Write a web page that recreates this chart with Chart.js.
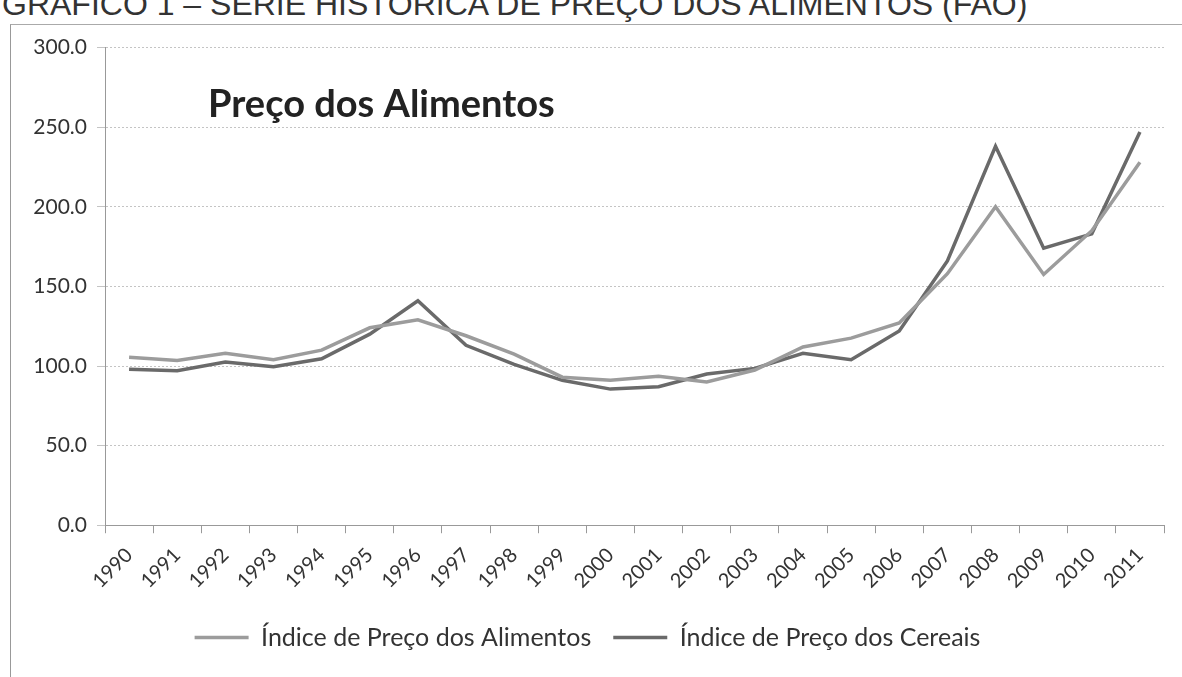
<!DOCTYPE html>
<html>
<head>
<meta charset="utf-8">
<script src="https://cdn.jsdelivr.net/npm/chart.js@4.4.1/dist/chart.umd.min.js"></script>
<style>
  body { margin: 0; background: #fff; overflow: hidden; }
  #header { position: absolute; left: 2px; top: -14px; font-family: "Liberation Sans", Arial, sans-serif; font-size: 32px; color: #333; white-space: nowrap; }
  #frame { position: absolute; left: 10px; top: 24px; width: 1180px; height: 660px; border-left: 1px solid #999; border-top: 1px solid #aaa; }
</style>
</head>
<body>
<div id="header">GRÁFICO 1 – SÉRIE HISTÓRICA DE PREÇO DOS ALIMENTOS (FAO)</div>
<div id="frame"><canvas id="precos" width="1162" height="635"></canvas></div>
<script>
// anos e indices
var anos = ['1990', '1991', '1992', '1993', '1994', '1995', '1996', '1997', '1998', '1999', '2000',
    '2001', '2002', '2003', '2004', '2005', '2006', '2007', '2008', '2009', '2010', '2011'];
var alimentos = [105.5, 103.5, 108, 104, 110, 124, 129, 119, 107.5, 93, 91, 93.5, 90, 97.5, 112, 117.5, 127, 158, 200, 157.5, 185, 228];
var cereais = [98, 97, 102.5, 99.5, 104.5, 120, 141, 113, 101, 91, 85.5, 87, 95, 98.5, 108, 104, 122, 166, 238, 174, 183, 247];
var tituloGrafico = 'Preço dos Alimentos';

var fonte = 'Lato, "Open Sans", sans-serif';

// titulo desenhado dentro da area do grafico
var tituloInterno = {
    id: 'tituloInterno',
    afterDraw: function (chart) {
        var c = chart.ctx;
        c.save();
        c.font = 'bold 38px ' + fonte;
        c.fillStyle = '#222';
        c.textBaseline = 'middle';
        c.fillText(tituloGrafico, chart.chartArea.left + 103, chart.chartArea.top + 57);
        c.restore();
    }
};

var ctx = document.getElementById('precos').getContext('2d');
var chart = new Chart(ctx, {
    type: 'line',
    data: {
        labels: anos,
        datasets: [{
            label: 'Índice de Preço dos Alimentos',
            data: alimentos,
            borderColor: '#9c9c9c',
            backgroundColor: '#9c9c9c',
            borderWidth: 3.5,
            pointRadius: 0,
            tension: 0
        },
        {
            label: 'Índice de Preço dos Cereais',
            data: cereais,
            borderColor: '#6a6a6a',
            backgroundColor: '#6a6a6a',
            borderWidth: 3.5,
            pointRadius: 0,
            tension: 0
        }]
    },
    options: {
        responsive: false,
        animation: false,
        layout: { padding: { top: 10, right: 9, left: 0, bottom: 0 } },
        plugins: {
            legend: {
                position: 'bottom',
                labels: {
                    usePointStyle: true,
                    pointStyle: 'line',
                    pointStyleWidth: 54,
                    boxHeight: 4,
                    color: '#333',
                    padding: 22,
                    font: { family: fonte, size: 25 }
                }
            },
            tooltip: { enabled: false }
        },
        scales: {
            x: {
                offset: true,
                grid: { display: true, drawOnChartArea: false, drawTicks: true, tickLength: 8, color: '#999', offset: true },
                border: { color: '#999' },
                ticks: { maxRotation: 45, minRotation: 45, color: '#333', font: { family: fonte, size: 20 }, padding: 10 }
            },
            y: {
                min: 0,
                max: 300,
                ticks: {
                    stepSize: 50,
                    color: '#333',
                    padding: 10,
                    font: { family: fonte, size: 21 },
                    callback: function (v) { return v.toFixed(1); }
                },
                grid: { color: '#c4c4c4', tickLength: 8 },
                border: { color: '#999', dash: [2, 2] },
                afterFit: function (s) { s.width = 94; }
            }
        }
    },
    plugins: [tituloInterno]
});
</script>
</body>
</html>
